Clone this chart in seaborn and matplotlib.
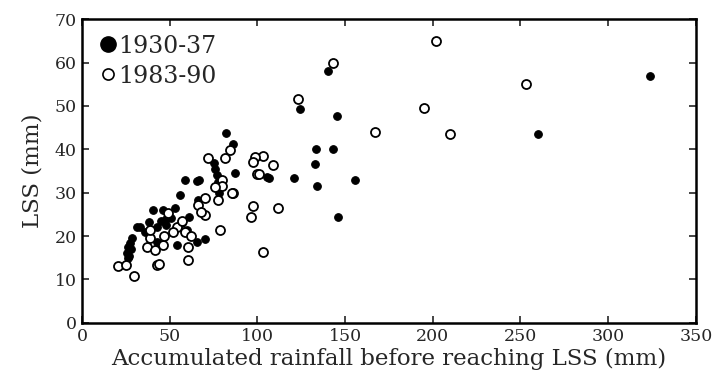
import matplotlib
matplotlib.use("Agg")
import matplotlib.pyplot as plt
import seaborn as sns
import pandas as pd
from matplotlib.lines import Line2D

# ---- data ----
x_1930 = [82, 86, 87, 75.5, 76, 77, 77.5, 78, 78, 59, 66.7, 65.4, 56, 66.3,
          40.3, 46.4, 53, 61.2, 38.4, 31.2, 33, 45, 48, 51, 59.7, 70, 65.4, 54,
          42.6, 28.3, 27.5, 26.4, 25.5, 26.4, 27, 28, 43, 48, 36, 57,
          105.3, 106.6, 121, 133.9, 132.6, 133.2, 142.9, 155.4, 145.9, 140,
          124.3, 145.2, 260, 324]
y_1930 = [43.8, 41.2, 34.6, 36.8, 35.5, 34, 32.5, 31, 30, 32.9, 32.9, 32.6, 29.5, 28.3,
          25.9, 25.9, 26.4, 24.5, 23.3, 22.2, 22, 23.5, 24, 24.1, 21.4, 19.3, 18.7, 18,
          18.7, 19.5, 18.5, 17.6, 16.1, 14.9, 15.5, 17, 22, 22.5, 21, 23,
          33.7, 33.3, 33.5, 31.5, 36.6, 40.1, 40.1, 32.9, 24.5, 58,
          49.3, 47.6, 43.5, 57]

x_1983 = [202, 143, 123, 195, 167, 210, 253, 112, 103, 109, 103.4, 98.4, 97.7, 99.9,
          97.7, 96.4, 72, 84.4, 81.5, 79.6, 86.3, 100.9, 80, 75.8, 85.3, 70.1, 77.7,
          66.3, 70.1, 78.7, 49.2, 54, 58.7, 60.6, 60.6, 38.8, 37.2, 41.6, 46.4, 47,
          42.6, 44, 38.8, 20.7, 29.6, 25, 57, 62, 52, 68]
y_1983 = [65, 60, 51.5, 49.5, 44, 43.5, 55, 26.5, 16.3, 36.4, 38.5, 38.3, 37.0, 34.3,
          27, 24.5, 37.9, 39.8, 37.9, 32.9, 30, 34.2, 31.5, 31.4, 29.9, 28.7, 28.3,
          27.2, 24.9, 21.4, 25.3, 22, 21, 17.6, 14.5, 19.5, 17.6, 16.8, 18, 20,
          13.4, 13.6, 21.4, 13.1, 10.8, 13.3, 23.5, 20, 21, 25.5]

labels = ["1930-37", "1983-90"]
x_ticks = [0, 50, 100, 150, 200, 250, 300, 350]
y_ticks = [0, 10, 20, 30, 40, 50, 60, 70]
x_label = "Accumulated rainfall before reaching LSS (mm)"
y_label = "LSS (mm)"

df_a = pd.DataFrame({"x": x_1930, "y": y_1930})
df_b = pd.DataFrame({"x": x_1983, "y": y_1983})

# ---- style ----
sns.set_style("ticks")
plt.rcParams["font.family"] = ["DejaVu Serif"]

fig = plt.figure(figsize=(7.13, 3.83), dpi=100)
ax = fig.add_axes([0.115, 0.157, 0.861, 0.793])

sns.scatterplot(data=df_a, x="x", y="y", ax=ax, color="black", edgecolor="black",
                s=30, marker="o", linewidth=0.8, zorder=2)
sns.scatterplot(data=df_b, x="x", y="y", ax=ax, facecolor="white", edgecolor="black",
                s=42, marker="o", linewidth=1.3, zorder=3)

ax.set_xlim(0, 350)
ax.set_ylim(0, 70)
ax.set_xticks(x_ticks)
ax.set_yticks(y_ticks)
ax.set_xlabel(x_label, fontsize=16.5, labelpad=2)
ax.set_ylabel(y_label, fontsize=16.5, labelpad=8)
ax.tick_params(direction="in", top=True, right=True, length=5, width=1.2,
               labelsize=12.5, pad=4)
for sp in ax.spines.values():
    sp.set_linewidth(1.8)
    sp.set_color("black")

handles = [
    Line2D([], [], marker="o", linestyle="none", markerfacecolor="black",
           markeredgecolor="black", markersize=11),
    Line2D([], [], marker="o", linestyle="none", markerfacecolor="white",
           markeredgecolor="black", markersize=8, markeredgewidth=1.2),
]
ax.legend(handles, labels, loc="upper left", bbox_to_anchor=(0.02, 0.965),
          frameon=False, fontsize=17, handletextpad=0.0, borderaxespad=0.0,
          labelspacing=0.3, handlelength=0.8, borderpad=0.2)

fig.savefig("out.png", dpi=100)
